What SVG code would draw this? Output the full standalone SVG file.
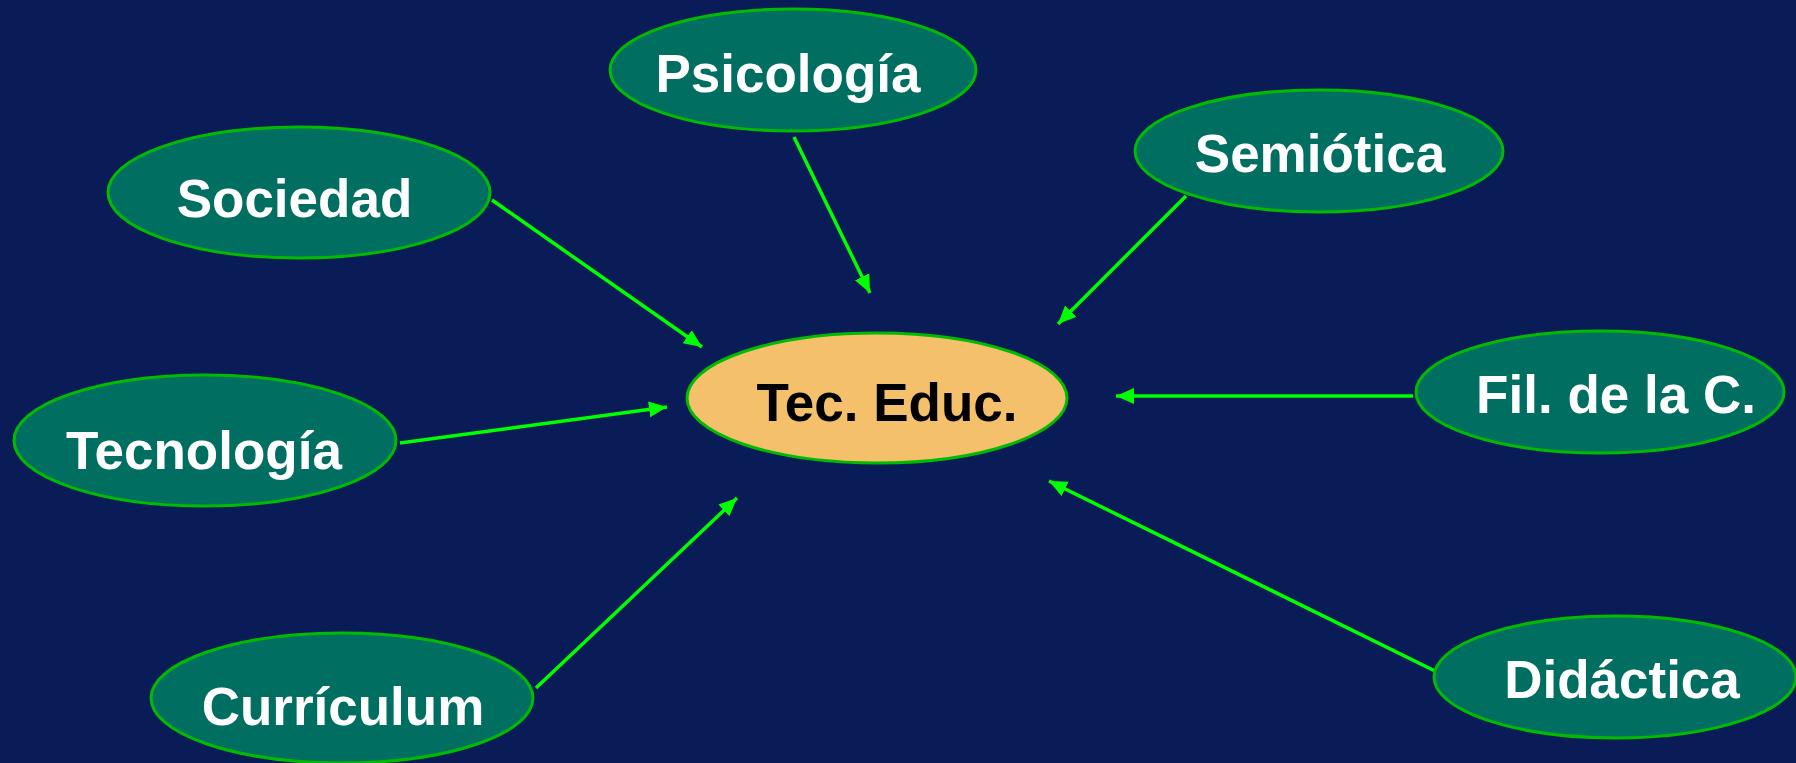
<svg xmlns="http://www.w3.org/2000/svg" width="1796" height="763" viewBox="0 0 1796 763">
<style>
.n ellipse{fill:#006e60;stroke:#00bb00;stroke-width:3}
.n text{font-family:"Liberation Sans",Arial,sans-serif;font-weight:bold;font-size:53px;fill:#ffffff;text-anchor:middle}
#tec ellipse{fill:#f5c06c}
#tec text{fill:#000000}
.c line{stroke:#00ff00;stroke-width:3.5;marker-end:url(#ah)}
</style>
<defs>
<marker id="ah" markerUnits="userSpaceOnUse" markerWidth="19" markerHeight="17" refX="18" refY="8" orient="auto" viewBox="0 0 19 17">
<path d="M0,0 L18,8 L0,16 z" fill="#00ff00"/>
</marker>
</defs>
<rect width="1796" height="763" fill="#0a1c57"/>
<g id="connectors" class="c">
<line x1="492" y1="200" x2="702" y2="347"/>
<line x1="794" y1="137" x2="870" y2="293"/>
<line x1="1186" y1="196" x2="1058" y2="324"/>
<line x1="1413" y1="396" x2="1116" y2="396"/>
<line x1="1435" y1="671" x2="1049" y2="481"/>
<line x1="536" y1="688" x2="737" y2="498"/>
<line x1="400" y1="443" x2="667" y2="407"/>
</g>
<g id="psicologia" class="n"><ellipse cx="793" cy="70" rx="183" ry="61"/><text x="788" y="92">Psicología</text></g>
<g id="sociedad" class="n"><ellipse cx="299" cy="192.5" rx="191" ry="65.5"/><text x="294.5" y="217">Sociedad</text></g>
<g id="semiotica" class="n"><ellipse cx="1319" cy="151" rx="184" ry="61"/><text x="1320" y="172">Semiótica</text></g>
<g id="tec" class="n"><ellipse cx="877" cy="398" rx="190" ry="65"/><text x="887" y="421">Tec. Educ.</text></g>
<g id="fil" class="n"><ellipse cx="1600" cy="392" rx="184" ry="61"/><text x="1616" y="413">Fil. de la C.</text></g>
<g id="tecnologia" class="n"><ellipse cx="205" cy="440.5" rx="191" ry="65.5"/><text x="204" y="469">Tecnología</text></g>
<g id="curriculum" class="n"><ellipse cx="342" cy="698" rx="191" ry="65"/><text x="343" y="725">Currículum</text></g>
<g id="didactica" class="n"><ellipse cx="1615" cy="677" rx="181" ry="61"/><text x="1622" y="698">Didáctica</text></g>
</svg>
